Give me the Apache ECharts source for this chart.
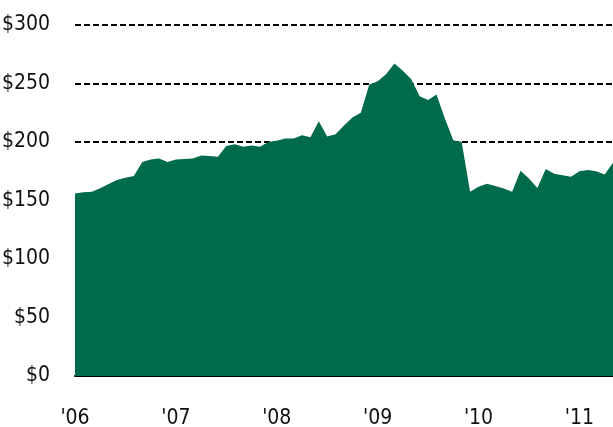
<!DOCTYPE html>
<html>
<head>
<meta charset="utf-8">
<script src="https://cdn.jsdelivr.net/npm/echarts@6/dist/echarts.min.js"></script>
<style>
  html, body { margin: 0; padding: 0; background: #fff; }
  #chart { width: 613px; height: 427px; }
</style>
</head>
<body>
<div id="chart"></div>
<script>
// monthly points, Jan 2006 .. May 2011
const years = ['06', '07', '08', '09', '10', '11']
const months = []
years.forEach(y => {
  for (let m = 1; m <= 12; m++) months.push(y + '-' + m)
})
const categories = months.slice(0, 65)

const values = [
  156, 157, 157.5, 160.5, 164, 167.5, 169.5, 171, 183, 185, 186, 183,
  185, 185.5, 186, 188.5, 188, 187.4, 196.6, 198, 196, 197, 196, 200,
  201, 203, 203, 205.7, 204, 217.7, 204.6, 206.6, 214, 221, 225, 249,
  252, 258, 267, 261, 253.7, 239, 236, 240.6, 220, 201.4, 200, 157.4,
  161.7, 164.3, 162.3, 160.3, 157.4, 175.4, 168.9, 160.6, 176.9, 172.8, 171.5, 170.3,
  174.9, 176, 175, 172.3, 182.3
]

const green = '#006b4c'
const font = "'DejaVu Sans', sans-serif"

const chart = echarts.init(document.getElementById('chart'))
chart.setOption({
  animation: false,
  grid: { left: 75, right: 0, top: 25, bottom: 51, containLabel: false, outerBoundsMode: 'none' },
  xAxis: {
    type: 'category',
    data: categories,
    boundaryGap: false,
    axisLine: { lineStyle: { color: '#000', width: 2 } },
    axisTick: { show: false },
    axisLabel: {
      interval: (i) => i % 12 === 0,
      formatter: (v) => "'" + v.split('-')[0],
      fontFamily: font,
      fontWeight: 'condensed',
      fontSize: 21,
      color: '#111',
      margin: 32
    }
  },
  yAxis: {
    type: 'value',
    min: 0,
    max: 300,
    interval: 50,
    axisLine: { show: false },
    axisTick: { show: false },
    axisLabel: {
      formatter: (v) => '$' + v,
      fontFamily: font,
      fontWeight: 'condensed',
      fontSize: 21,
      color: '#111',
      margin: 25
    },
    splitLine: {
      lineStyle: { color: '#000', width: 2, type: [6, 3] }
    }
  },
  series: [{
    type: 'line',
    data: values,
    showSymbol: false,
    lineStyle: { width: 0 },
    areaStyle: { color: green, opacity: 1 },
    z: 3
  }]
})
</script>
</body>
</html>
